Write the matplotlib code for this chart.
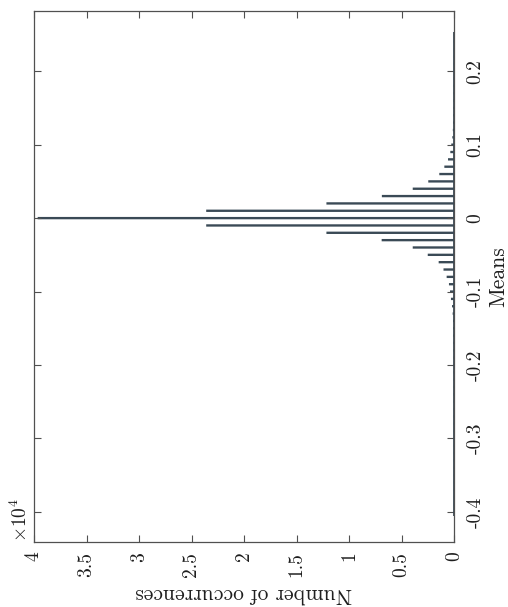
import matplotlib
matplotlib.use("Agg")
from matplotlib import pyplot as plt

plt.rcParams["font.family"] = "cmr10"
plt.rcParams["mathtext.fontset"] = "cm"
plt.rcParams["axes.unicode_minus"] = False

# histogram bins (bin centres) and counts
means = [-0.40, -0.39, -0.38, -0.37, -0.36, -0.35, -0.34, -0.33, -0.32, -0.31,
         -0.30, -0.29, -0.28, -0.27, -0.26, -0.25, -0.24, -0.23, -0.22, -0.21,
         -0.20, -0.19, -0.18, -0.17, -0.16, -0.15, -0.14, -0.13, -0.12, -0.11,
         -0.10, -0.09, -0.08, -0.07, -0.06, -0.05, -0.04, -0.03, -0.02, -0.01,
         0.00, 0.01, 0.02, 0.03, 0.04, 0.05, 0.06, 0.07, 0.08, 0.09,
         0.10, 0.11, 0.12, 0.13, 0.14, 0.15, 0.16, 0.17, 0.18, 0.19,
         0.20, 0.21, 0.22, 0.23, 0.24, 0.25]
counts = [10, 10, 10, 10, 10, 10, 10, 12, 12, 12,
          15, 15, 15, 18, 18, 20, 20, 22, 25, 28,
          30, 35, 40, 50, 60, 75, 95, 130, 190, 290,
          380, 480, 700, 1000, 1460, 2500, 3930, 6890, 12150, 23600,
          39650, 23600, 12150, 6870, 3930, 2450, 1400, 920, 570, 350,
          260, 160, 110, 80, 60, 45, 35, 30, 25, 22,
          18, 15, 12, 10, 10, 10]

countTicks = [0, 5000, 10000, 15000, 20000, 25000, 30000, 35000, 40000]
countLabels = ["0", "0.5", "1", "1.5", "2", "2.5", "3", "3.5", "4"]
meanTicks = [-0.4, -0.3, -0.2, -0.1, 0, 0.1, 0.2]
meanLabels = ["-0.4", "-0.3", "-0.2", "-0.1", "0", "0.1", "0.2"]

barColor = "#3a4a56"
axColor = "#505050"
txtColor = "#1e1e1e"

fig = plt.figure(figsize=(5.08, 6.07), dpi=100)
ax = fig.add_axes([34 / 508, 65 / 607, 420 / 508, 531 / 607])

bars = ax.barh(means, counts, height=0.0032, color=barColor, linewidth=0)
for b in bars:
    b.set_snap(False)
# bar baseline over the data range
ax.vlines(0, means[0] - 0.006, means[-1] + 0.003, color=barColor, lw=1.3, clip_on=False)

ax.set_xlim(40000, 0)
ax.set_ylim(-0.441, 0.282)

ax.set_xticks(countTicks)
ax.set_xticklabels(countLabels, rotation=90, fontsize=14, color=txtColor)
ax.yaxis.tick_right()
ax.set_yticks(meanTicks)
ax.set_yticklabels(meanLabels, rotation=90, va="center", fontsize=14, color=txtColor)

ax.tick_params(axis="x", direction="in", length=5, width=0.8, color=axColor,
               top=True, bottom=True, pad=7)
ax.tick_params(axis="y", direction="in", length=5, width=0.8, color=axColor,
               left=True, right=True, labelleft=False, labelright=True, pad=9)

for s in ax.spines.values():
    s.set_color(axColor)
    s.set_linewidth(0.9)

ax.set_xlabel("Number of occurrences", rotation=180, fontsize=15.5, color=txtColor)
ax.xaxis.label.set_va("center")
ax.xaxis.set_label_coords(0.5, -0.098)

ax.yaxis.set_label_position("right")
ax.set_ylabel("Means", rotation=90, fontsize=15.5, color=txtColor)
ax.yaxis.label.set_va("center")
ax.yaxis.set_label_coords(1.105, 0.5)

ax.text(-0.033, 0.0, r"$\times10^{4}$", transform=ax.transAxes, rotation=90,
        ha="center", va="bottom", fontsize=14, color=txtColor)

plt.savefig("out.png", dpi=100)
plt.close(fig)
